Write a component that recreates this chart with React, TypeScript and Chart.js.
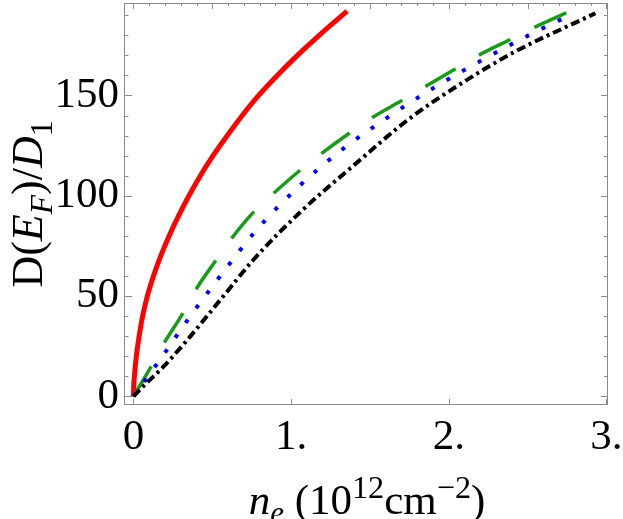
import React, { useEffect, useRef } from 'react';
import { Chart, registerables } from 'chart.js';

Chart.register(...registerables);

// n_e in units of 10^12 cm^-2, D(E_F)/D_1
const redN = [0, 0.0015, 0.006, 0.018, 0.036, 0.058, 0.088, 0.127, 0.173, 0.226, 0.286, 0.352, 0.424, 0.505, 0.595, 0.69, 0.794, 0.912, 1.04, 1.178, 1.355];
const redD = [0, 5, 10, 20, 30, 40, 50, 60, 70, 80, 90, 100, 110, 120, 130, 140, 150, 160, 170, 180, 192];

const greenN = [0, 0.12, 0.19, 0.31, 0.39, 0.52, 0.625, 0.74, 0.9, 1.058, 1.2, 1.376, 1.524, 1.714, 1.884, 2.053, 2.2, 2.4, 2.56, 2.77];
const greenD = [0, 16, 26, 41, 52.5, 67.5, 79, 90, 102, 112.8, 121.5, 131.6, 139.4, 148, 156, 163.8, 170.5, 178.3, 184.6, 192];

const blueN = [0, 0.17, 0.37, 0.58, 0.77, 1.058, 1.333, 1.63, 1.915, 2.222, 2.54, 2.77];
const blueD = [0, 18.5, 41, 63, 82, 105.3, 123.6, 140, 154.3, 168.1, 181.3, 190];

const blackN = [0, 0.07, 0.19, 0.34, 0.55, 0.76, 1.06, 1.38, 1.76, 2.1, 2.4, 2.93];
const blackD = [0, 5.6, 14.8, 28, 48, 68, 92, 114, 139, 157, 171, 191];

const xTickValues = [0, 1, 2, 3];
const xTickLabels = ['0', '1.', '2.', '3.'];
const yTickValues = [0, 50, 100, 150];
const yTickLabels = ['0', '50', '100', '150'];

const SERIF = "'Liberation Serif', 'Times New Roman', serif";

type Part = { t: string; i?: boolean; s?: number; dy?: number };

const xTitle: Part[] = [
  { t: 'n', i: true },
  { t: 'e', i: true, s: 0.72, dy: 0.22 },
  { t: ' (10' },
  { t: '12', s: 0.75, dy: -0.38 },
  { t: 'cm' },
  { t: '\u22122', s: 0.75, dy: -0.38 },
  { t: ')' },
];

const yTitle: Part[] = [
  { t: 'D' },
  { t: '(' },
  { t: 'E', i: true },
  { t: 'F', i: true, s: 0.72, dy: 0.22 },
  { t: ')' },
  { t: '/' },
  { t: 'D', i: true },
  { t: '1', s: 0.72, dy: 0.22 },
];

function pts(xs: number[], ys: number[]) {
  return xs.map((x, i) => ({ x, y: ys[i] }));
}

function drawRich(ctx: CanvasRenderingContext2D, parts: Part[], x: number, y: number, base: number) {
  let total = 0;
  const items = parts.map((p) => {
    const size = base * (p.s ?? 1);
    const font = `${p.i ? 'italic ' : ''}${size}px ${SERIF}`;
    ctx.font = font;
    const w = ctx.measureText(p.t).width;
    total += w;
    return { ...p, font, w };
  });
  let cx = x - total / 2;
  ctx.textBaseline = 'alphabetic';
  ctx.textAlign = 'left';
  for (const it of items) {
    ctx.font = it.font;
    ctx.fillText(it.t, cx, y + (it.dy ?? 0) * base);
    cx += it.w;
  }
}

const framePlugin = {
  id: 'frame',
  beforeDatasetsDraw(chart: any) {
    const { ctx, chartArea: a, scales } = chart;
    const xs = scales.x;
    const ys = scales.y;
    ctx.save();
    ctx.strokeStyle = '#8a8a8a';
    ctx.lineWidth = 1;
    ctx.strokeRect(a.left + 0.5, a.top + 0.5, a.right - a.left - 1, a.bottom - a.top - 1);
    ctx.beginPath();
    for (let v = 0; v <= 190; v += 10) {
      const py = Math.round(ys.getPixelForValue(v)) + 0.5;
      const major = v % 50 === 0;
      ctx.moveTo(a.left, py);
      ctx.lineTo(a.left + (major ? 8 : 4.5), py);
      ctx.moveTo(a.right, py);
      ctx.lineTo(a.right - (major ? 7 : 4), py);
    }
    for (let i = 0; i <= 30; i++) {
      const px = Math.round(xs.getPixelForValue(i / 10)) + 0.5;
      const major = i % 5 === 0;
      ctx.moveTo(px, a.top);
      ctx.lineTo(px, a.top + (major ? 6 : 3));
    }
    for (const v of xTickValues) {
      const px = Math.round(xs.getPixelForValue(v)) + 0.5;
      ctx.moveTo(px, a.bottom);
      ctx.lineTo(px, a.bottom - 6);
    }
    ctx.stroke();
    ctx.restore();
  },
  afterDraw(chart: any) {
    const { ctx, chartArea: a } = chart;
    ctx.save();
    ctx.fillStyle = '#000';
    drawRich(ctx, xTitle, (a.left + a.right) / 2 + 1, 514, 43);
    ctx.translate(42, 204);
    ctx.rotate(-Math.PI / 2);
    drawRich(ctx, yTitle, 0, 0, 44);
    ctx.restore();
  },
};

export default function App() {
  const ref = useRef<HTMLCanvasElement>(null);
  useEffect(() => {
    if (!ref.current) return;
    const common = { showLine: true, pointRadius: 0, fill: false, cubicInterpolationMode: 'monotone' as const, borderCapStyle: 'butt' as const };
    const chart = new Chart(ref.current, {
      type: 'scatter',
      data: {
        datasets: [
          { ...common, label: 'black', data: pts(blackN, blackD), borderColor: '#000000', borderWidth: 4, borderDash: [9, 4, 3, 4] },
          { ...common, label: 'blue', data: pts(blueN, blueD), borderColor: '#0000ff', borderWidth: 4, borderDash: [4, 14] },
          { ...common, label: 'green', data: pts(greenN, greenD), borderColor: '#1a9a1a', borderWidth: 3.5, borderDash: [35, 27] },
          { ...common, label: 'red', data: pts(redN, redD), borderColor: '#ff0000', borderWidth: 5 },
        ],
      },
      options: {
        responsive: false,
        animation: false,
        events: [],
        layout: { padding: { top: 3, right: 15, left: 0, bottom: 0 } },
        plugins: { legend: { display: false }, tooltip: { enabled: false } },
        scales: {
          x: {
            type: 'linear',
            min: -0.06,
            max: 3.01,
            afterBuildTicks: (s: any) => {
              s.ticks = xTickValues.map((v) => ({ value: v }));
            },
            ticks: {
              callback: (v: any) => xTickLabels[xTickValues.indexOf(Number(v))] ?? '',
              font: { family: SERIF, size: 43 },
              color: '#000',
              padding: 7,
              maxRotation: 0,
              autoSkip: false,
            },
            grid: { display: false, drawTicks: false },
            border: { display: false },
            afterFit: (s: any) => {
              s.height = 114;
              s.paddingLeft = 0;
              s.paddingRight = 0;
            },
          },
          y: {
            type: 'linear',
            min: -4.3,
            max: 196.1,
            afterBuildTicks: (s: any) => {
              s.ticks = yTickValues.map((v) => ({ value: v }));
            },
            ticks: {
              callback: (v: any) => yTickLabels[yTickValues.indexOf(Number(v))] ?? '',
              font: { family: SERIF, size: 43 },
              color: '#000',
              padding: 5,
              autoSkip: false,
            },
            grid: { display: false, drawTicks: false },
            border: { display: false },
            afterFit: (s: any) => {
              s.width = 124;
              s.paddingTop = 0;
              s.paddingBottom = 0;
            },
          },
        },
      },
      plugins: [framePlugin],
    });
    return () => chart.destroy();
  }, []);
  return (
    <div style={{ position: 'absolute', left: 0, top: 0, width: 623, height: 519, background: '#fff' }}>
      <canvas ref={ref} width={623} height={519} />
    </div>
  );
}
